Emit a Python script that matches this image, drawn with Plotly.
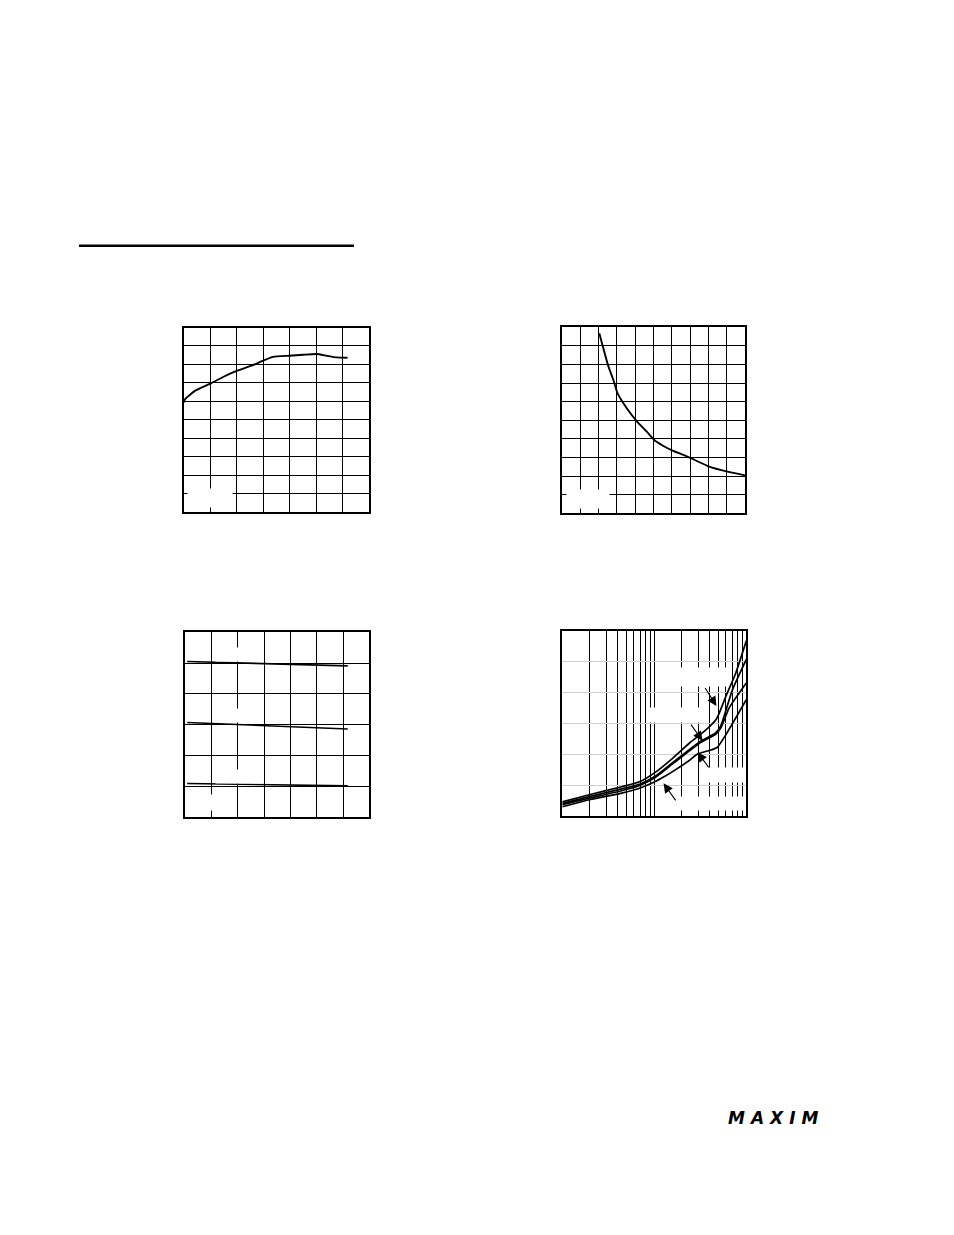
import math
import plotly.graph_objects as go

W, H = 954, 1235

# ---------------- data (grid units) ----------------
# Chart 1 (top left): 7 x 10 grid
c1_x = [0, 0.06, 0.19, 0.44, 1.03, 1.51, 2.03, 2.57, 3.0, 3.38, 3.99, 4.52, 5.02, 5.40, 5.78, 6.19]
c1_y = [5.93, 6.12, 6.29, 6.58, 6.97, 7.33, 7.66, 7.93, 8.2, 8.41, 8.47, 8.52, 8.56, 8.47, 8.38, 8.36]

# Chart 2 (top right): 10 x 10 grid
c2_x = [2.05, 2.27, 2.55, 2.82, 3.05, 3.55, 4.09, 4.64, 5.05, 5.55, 6.05, 6.64, 7.05, 8.05, 9.05, 10]
c2_y = [9.68, 8.87, 7.89, 7.17, 6.45, 5.65, 4.96, 4.39, 3.94, 3.62, 3.37, 3.14, 2.96, 2.51, 2.24, 2.04]

# Chart 3 (bottom left): 7 x 6 grid, three nearly flat lines
c3_x = [0.07, 3.09, 6.18]
c3_top = [5.05, 4.98, 4.91]
c3_mid = [3.07, 2.97, 2.86]
c3_low = [1.09, 1.05, 1.01]

# Chart 4 (bottom right): log x (1..100), 6 rows
c4a_x = [1, 1.92, 4.42, 6.92, 10.5, 15.8, 24.0, 36.4, 46.7, 50.7, 59.8, 76.7, 100]
c4a_y = [0.46, 0.68, 0.95, 1.11, 1.44, 1.87, 2.36, 2.79, 3.12, 3.33, 3.87, 4.63, 5.68]
c4b_x = [1, 1.92, 4.42, 6.92, 10, 15.8, 24.0, 32.1, 46.7, 52.8, 70.6, 100]
c4b_y = [0.41, 0.62, 0.88, 1.03, 1.27, 1.73, 2.15, 2.43, 2.70, 2.92, 4.09, 5.08]
c4c_x = [1, 1.92, 4.42, 6.92, 10, 15.8, 24.0, 32.1, 46.7, 52.8, 65.0, 100]
c4c_y = [0.37, 0.57, 0.82, 0.99, 1.23, 1.69, 2.11, 2.39, 2.66, 2.85, 3.50, 4.31]
c4d_x = [1, 1.92, 4.42, 6.92, 10, 12.9, 15.8, 24.0, 29.5, 41.2, 48.5, 59.8, 100]
c4d_y = [0.30, 0.52, 0.74, 0.90, 1.10, 1.28, 1.44, 1.80, 2.01, 2.14, 2.23, 2.63, 3.77]

# arrows in chart 4 (head / tail)
arr_head_x = [47.3, 33.4, 29.5, 12.6]
arr_head_y = [3.57, 2.44, 2.06, 1.06]
arr_tail_x = [34.9, 24.4, 41.2, 17.5]
arr_tail_y = [4.20, 3.01, 1.49, 0.46]

c4_ticks = [1, 2, 3, 4, 5, 6, 7, 8, 9, 10, 20, 30, 40, 50, 60, 70, 80, 90, 100]


def px(x):
    return x / W


def py(y):
    return 1 - y / H


fig = go.Figure()
line = dict(color="black", width=1.9, shape="spline", smoothing=0.5)
fig.add_trace(go.Scatter(x=c1_x, y=c1_y, mode="lines", line=line, xaxis="x", yaxis="y"))
fig.add_trace(go.Scatter(x=c2_x, y=c2_y, mode="lines", line=line, xaxis="x2", yaxis="y2"))
for ys in (c3_top, c3_mid, c3_low):
    fig.add_trace(go.Scatter(x=c3_x, y=ys, mode="lines",
                             line=dict(color="black", width=1.6), xaxis="x3", yaxis="y3"))
for xs, ys in ((c4a_x, c4a_y), (c4b_x, c4b_y), (c4c_x, c4c_y), (c4d_x, c4d_y)):
    fig.add_trace(go.Scatter(x=xs, y=ys, mode="lines",
                             line=dict(color="black", width=1.7, shape="spline", smoothing=0.5),
                             xaxis="x4", yaxis="y4"))

frame = dict(showline=True, linecolor="black", linewidth=2, mirror=True,
             showticklabels=False, ticks="", zeroline=False,
             showgrid=True, gridcolor="black", gridwidth=1, fixedrange=True)

fig.update_layout(
    width=W, height=H, margin=dict(l=0, r=0, t=0, b=0),
    paper_bgcolor="white", plot_bgcolor="white", showlegend=False,
    xaxis=dict(frame, domain=[px(183.5), px(369)], range=[0, 7], dtick=1, anchor="y"),
    yaxis=dict(frame, domain=[py(512), py(327.5)], range=[0, 10], dtick=1, anchor="x"),
    xaxis2=dict(frame, domain=[px(561.7), px(745)], range=[0, 10], dtick=1, anchor="y2"),
    yaxis2=dict(frame, domain=[py(513.3), py(327.3)], range=[0, 10], dtick=1, anchor="x2"),
    xaxis3=dict(frame, domain=[px(185.3), px(369.3)], range=[0, 7], dtick=1, anchor="y3"),
    yaxis3=dict(frame, domain=[py(817), py(632.3)], range=[0, 6], dtick=1, anchor="x3"),
    xaxis4=dict(frame, domain=[px(562.3), px(746.3)], type="log", range=[0, 2],
                tickmode="array", tickvals=c4_ticks, anchor="y4"),
    yaxis4=dict(frame, domain=[py(816), py(631)], range=[0, 6], dtick=1, anchor="x4",
                gridcolor="#cfcfcf"),
)

ann = []
for hx, hy, tx, ty in zip(arr_head_x, arr_head_y, arr_tail_x, arr_tail_y):
    ann.append(dict(xref="x4", yref="y4", axref="x4", ayref="y4",
                    x=math.log10(hx), y=hy, ax=math.log10(tx), ay=ty,
                    showarrow=True, arrowhead=2, arrowsize=1.7, arrowwidth=1.1,
                    arrowcolor="black", standoff=0, text=""))

# white labels (text is white in the reference, only their boxes show)
labels = [
    ("TA = +25°C", 210, 498, 44, 18),
    ("TA = +25°C", 588, 499, 42, 18),
    ("VCC = 5V", 238.5, 654.5, 46, 13),
    ("VCC = 3V", 238.5, 715, 46, 13),
    ("VCC = 2V", 238.5, 776.5, 46, 13),
    ("RL = ∞", 212, 802, 42, 15),
    ("TA = +85°C", 703, 677, 50, 18),
    ("TA = +25°C", 673.5, 715, 53, 14),
    ("TA = 0°C", 724.5, 775, 39, 14),
    ("TA = -40°C", 712, 803.5, 63, 13),
]
for t, cx, cy, w, h in labels:
    ann.append(dict(xref="paper", yref="paper", x=px(cx), y=py(cy), xanchor="center",
                    yanchor="middle", text=t, showarrow=False, width=w, height=h,
                    bgcolor="white", borderpad=0, font=dict(color="white", size=9,
                                                            family="Liberation Sans")))

# logo
ann.append(dict(xref="paper", yref="paper", x=px(776), y=py(1118), xanchor="center",
                yanchor="middle", showarrow=False,
                text='<span style="letter-spacing:6px"><b><i>MAXIM</i></b></span>',
                font=dict(color="black", size=17, family="DejaVu Sans")))

fig.update_layout(annotations=ann)

fig.add_shape(type="line", xref="paper", yref="paper", x0=px(79), x1=px(354),
              y0=py(245.7), y1=py(245.7), line=dict(color="black", width=2.5))

fig.write_html("out.html", config={"displayModeBar": False},
               post_script="document.body.style.margin='0px';document.body.style.overflow='hidden';")
